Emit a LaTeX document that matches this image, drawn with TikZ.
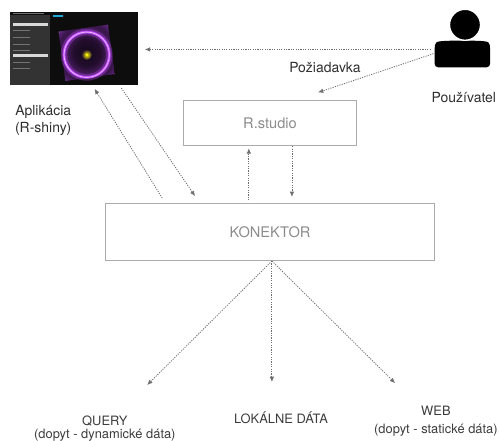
\documentclass[tikz,border=0pt]{standalone}
\usepackage{fontspec}
\setmainfont{TeX Gyre Heros}
\usetikzlibrary{arrows.meta,positioning}

\definecolor{boxline}{HTML}{ABABAB}
\definecolor{boxtext}{HTML}{8C8C8C}
\definecolor{flowline}{HTML}{6E6E6E}
\definecolor{labeltext}{HTML}{2E2E2E}
\definecolor{datatext}{HTML}{3C3C3C}
\definecolor{ringviolet}{HTML}{C24BFF}
\definecolor{shinytab}{HTML}{1FA6DA}

% dark plot area, pale corners
\pgfdeclareradialshading{plotglow}{\pgfpoint{0bp}{0bp}}{%
  color(0bp)=(black!90!ringviolet); color(12bp)=(black!82!ringviolet);
  color(20bp)=(black!60!ringviolet); color(25bp)=(black!72!ringviolet);
  color(30bp)=(black!55!ringviolet); color(36bp)=(ringviolet!35!white);
  color(50bp)=(white)}

\tikzset{
  block/.style={rectangle, draw=boxline, line width=0.7pt, text=boxtext,
    font=\fontsize{11}{13}\selectfont},
  flow/.style={-{Latex[length=4pt,width=3.4pt]}, draw=flowline, line width=0.6pt,
    dash pattern=on 0.9pt off 0.9pt},
  lbl/.style={align=center, text=labeltext, font=\fontsize{10.5}{13}\selectfont},
  datalbl/.style={align=center, text=datatext, font=\fontsize{9.7}{10}\selectfont},
}

\begin{document}
\begin{tikzpicture}
\useasboundingbox (-7.144,6.138) rectangle (6.059,-5.530);

% main blocks
\node (konektor) [block, minimum width=8.7cm, minimum height=1.51cm] at (0,0) {KONEKTOR};
\node (rstudio) [block, minimum width=4.6cm, minimum height=1.19cm, above=1.5cm of konektor] {R.studio};

% app window
\node (app) [fill=black!95, minimum width=3.39cm, minimum height=1.93cm, inner sep=0] at (-5.19,4.86) {};
\begin{scope}[shift={(app.center)}]
  \draw[black!55, line width=0.6pt] (-1.62,0.93) -- (-0.8,0.93);
  \fill[black!80] (-1.69,0.89) rectangle (-0.635,-0.97);
  \fill[white!85!black] (-1.61,0.60) rectangle (-0.69,0.67);
  \fill[white!85!black] (-1.61,-0.23) rectangle (-0.69,-0.16);
  \foreach \y in {0.49,0.30,0.12,-0.04,-0.36,-0.52}
    \draw[black!55, line width=0.4pt] (-1.6,\y) -- (-1.15,\y);
  \fill[shinytab] (-0.56,0.83) rectangle (-0.29,0.89);
  % rotated plot with the ring
  \shade[shading=plotglow, rotate around={8:(0.34,-0.12)}]
    (-0.32,-0.78) rectangle (1.0,0.54);
  \draw[ringviolet, line width=5pt, opacity=0.3] (0.34,-0.17) circle (0.6cm);
  \draw[ringviolet, line width=2pt] (0.34,-0.17) circle (0.6cm);
  \draw[ringviolet!40!white, line width=0.6pt] (0.34,-0.17) circle (0.6cm);
  \shade[inner color=yellow, outer color=black!82!ringviolet] (0.34,-0.17) circle (0.14cm);
  \fill[yellow!90!white] (0.34,-0.17) circle (0.035cm);
\end{scope}
\node (applbl) [lbl] at (-6.0,2.96) {Aplikácia\\(R-shiny)};

% user icon
\node (person) [minimum width=1.45cm, minimum height=0.69cm, inner sep=0] at (5.09,4.71) {};
\fill[black, rounded corners=2.5pt] (person.south west) -- ([yshift=-0.36cm]person.north west)
  .. controls ([yshift=-0.02cm]person.north west) .. ([xshift=0.42cm]person.north west)
  -- ([xshift=-0.42cm]person.north east)
  .. controls ([yshift=-0.02cm]person.north east) .. ([yshift=-0.36cm]person.north east)
  -- (person.south east) -- cycle;
\fill[black, draw=white, line width=1pt] ([xshift=0.07cm,yshift=0.42cm]person.north) circle (0.41cm);
\node (personlbl) [lbl] at (5.13,3.57) {Používatel};

% requests
\coordinate (pw) at ([yshift=0.12cm]person.west);
\coordinate (pr) at ([yshift=0.02cm]person.west);
\coordinate (req) at ([xshift=1.27cm,yshift=0.21cm]rstudio.north);
\draw[flow, shorten <=3pt, shorten >=5pt] (pw) -- (app.east |- pw);
\draw[flow, shorten <=1pt] (pr) -- (req);
\node (reqlbl) [lbl] at (1.455,4.34) {Požiadavka};

% app <-> konektor
\coordinate (a1) at ([xshift=1.51cm,yshift=0.13cm]konektor.north west);
\coordinate (a2) at ([xshift=2.25cm,yshift=-0.1cm]app.south west);
\coordinate (b1) at ([xshift=2.96cm,yshift=-0.08cm]app.south west);
\coordinate (b2) at ([xshift=2.38cm,yshift=0.18cm]konektor.north west);
\draw[flow] (a1) -- (a2);
\draw[flow] (b1) -- (b2);

% rstudio <-> konektor
\draw[flow, shorten <=2pt, shorten >=1.5pt] ([xshift=-0.56cm]rstudio.south |- konektor.north) -- ([xshift=-0.56cm]rstudio.south);
\draw[flow, shorten >=4.5pt] ([xshift=0.58cm]rstudio.south) -- ([xshift=0.58cm]rstudio.south |- konektor.north);

% data sources
\node (query) [datalbl] at (-4.37,-5.20) {QUERY\\(dopyt - dynamické dáta)};
\node (lokalne) [datalbl] at (0.29,-4.92) {LOKÁLNE DÁTA};
\node (web) [datalbl, font=\fontsize{9.7}{14}\selectfont] at (4.39,-5.01) {WEB\\(dopyt - statické dáta)};
\coordinate (qtip) at (-3.25,-4.05);
\coordinate (ltip) at (0.05,-3.97);
\coordinate (wtip) at (3.31,-4.0);
\draw[flow] ([xshift=0.05cm]konektor.south) -- (qtip);
\draw[flow] ([xshift=0.05cm]konektor.south) -- (ltip);
\draw[flow] ([xshift=0.05cm]konektor.south) -- (wtip);

\end{tikzpicture}
\end{document}
